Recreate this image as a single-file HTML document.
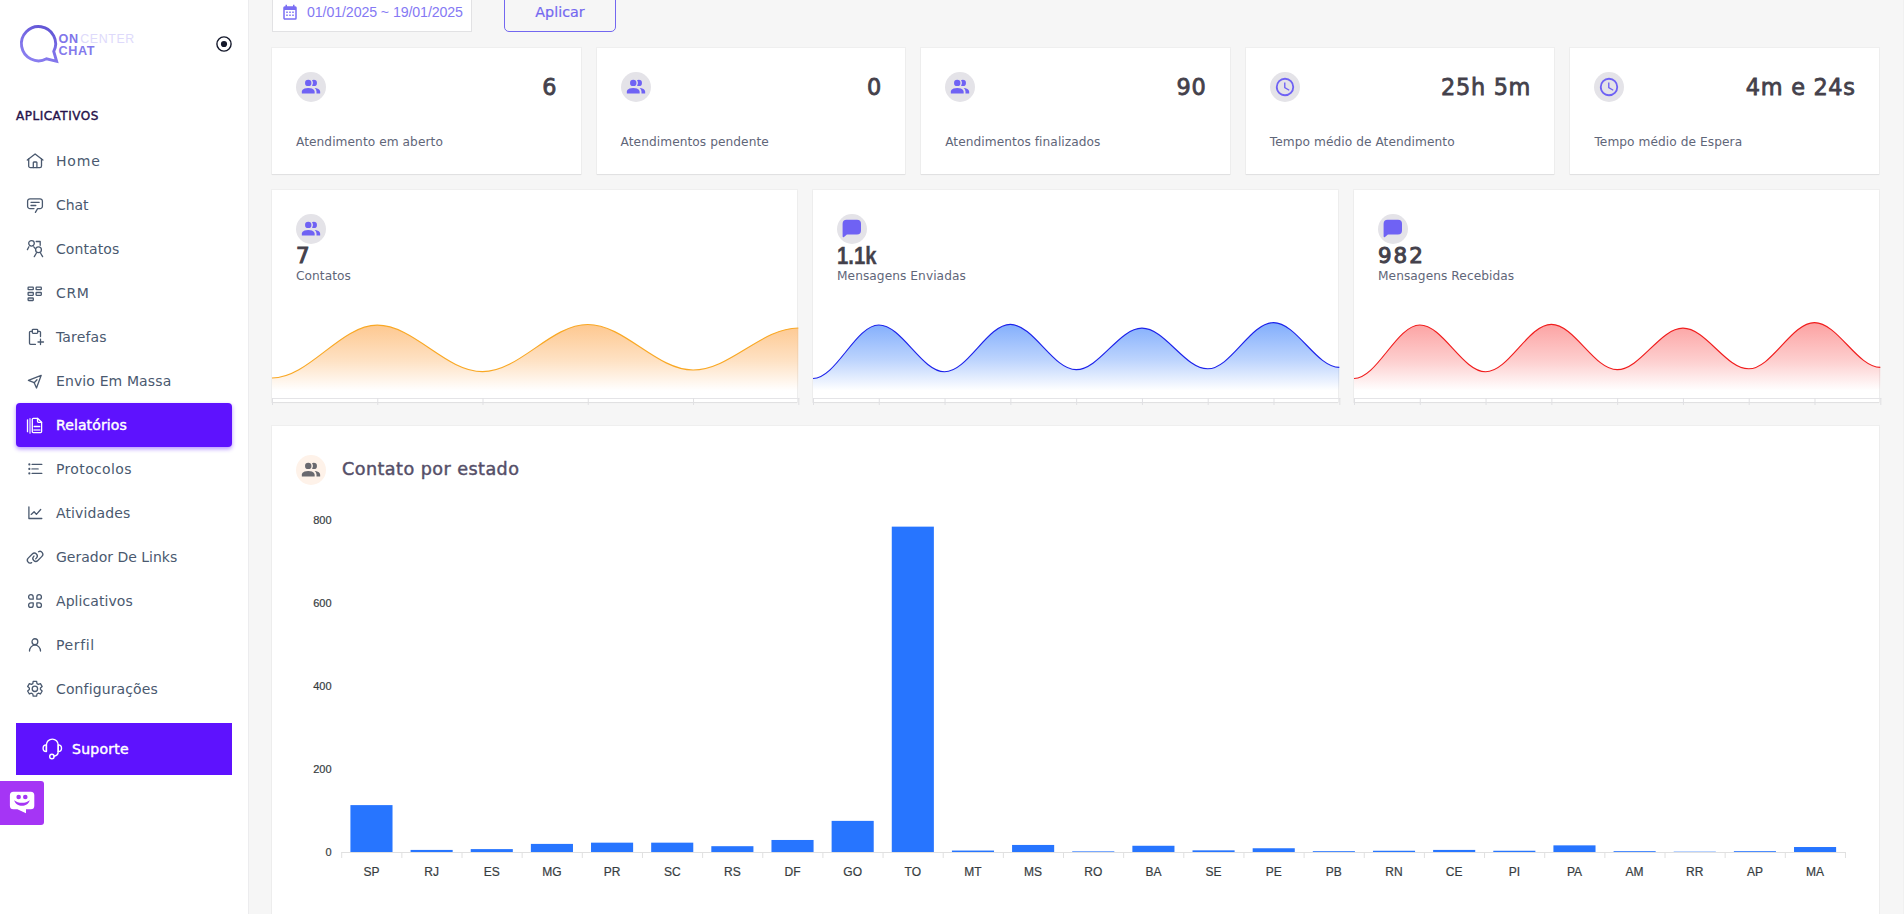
<!DOCTYPE html>
<html lang="pt-BR"><head><meta charset="utf-8"><title>OnCenter Chat - Relatórios</title>
<style>

*{box-sizing:border-box;margin:0;padding:0}
html,body{width:1904px;height:914px;overflow:hidden;background:#f6f6f6;font-family:"DejaVu Sans","Liberation Sans",sans-serif;}
.abs{position:absolute}
#side{position:absolute;left:0;top:0;width:248px;height:914px;background:#fff;box-shadow:1px 0 0 #ececee}
.nav{position:absolute;left:16px;width:216px;height:44px;color:#4a596f;font-size:14px;}
.nav svg{position:absolute;left:9px;top:12px}
.nav span{position:absolute;left:40px;top:0;line-height:44px;white-space:nowrap}
.nav.act{background:#5e12fe;color:#fff;border-radius:4px;box-shadow:0 2px 4px rgba(94,18,254,.46)}
.nav.act span{-webkit-text-stroke:.45px #fff}
.card{position:absolute;background:#fff;border-radius:0;box-shadow:0 1px 1px rgba(20,20,40,.06),0 0 0 1px rgba(20,20,40,.03)}
.av{position:absolute;width:30px;height:30px;border-radius:50%;background:#e4e3e8}
.val{position:absolute;color:#44414b;font-size:22.400px;line-height:30px;white-space:nowrap;letter-spacing:.7px;-webkit-text-stroke:.8px #44414b}
.lbl{position:absolute;color:#5f6679;font-size:12.200px;line-height:16px;white-space:nowrap;letter-spacing:.06px}
.t{position:absolute;white-space:nowrap}

</style></head><body>
<aside id="side">
<svg class="abs" style="left:14px;top:18px" width="60" height="52" viewBox="14 18 60 52">
<defs><linearGradient id="lg" gradientUnits="userSpaceOnUse" x1="50" y1="26" x2="34" y2="62"><stop offset="0" stop-color="#5d51d2"/><stop offset=".5" stop-color="#7a6de6"/><stop offset="1" stop-color="#8b7ff0"/></linearGradient></defs>
<path d="M53.74 51.46A17.1 17.1 0 1 0 46.53 58.80L56.6 61.3Z" fill="none" stroke="url(#lg)" stroke-width="2.900" stroke-linejoin="miter" stroke-miterlimit="10"/>
</svg>
<div class="t" style="left:58.500px;top:32.200px;font-size:12.600px;line-height:14px;font-weight:700;color:#8075ea;font-family:'Liberation Sans',sans-serif;letter-spacing:.75px">ON</div>
<div class="t" style="left:80.300px;top:32.200px;font-size:12.400px;line-height:14px;color:#dedafb;font-family:'Liberation Sans',sans-serif;letter-spacing:.6px">CENTER</div>
<div class="t" style="left:58.500px;top:43.900px;font-size:12.600px;line-height:14px;font-weight:700;color:#8479ec;font-family:'Liberation Sans',sans-serif;letter-spacing:.65px">CHAT</div>
<svg class="abs" style="left:214px;top:33.700px" width="20" height="20" viewBox="0 0 20 20"><circle cx="10" cy="10" r="7.100" fill="none" stroke="#14182b" stroke-width="1.400"/><circle cx="10" cy="10" r="3.100" fill="#14182b"/></svg>
<div class="t" style="left:16px;top:107.800px;font-size:12px;line-height:16px;color:#26124a;letter-spacing:.5px;-webkit-text-stroke:.4px #26124a">APLICATIVOS</div>
<a class="nav" style="top:139px"><svg width="20" height="20" viewBox="0 0 20 20"><g fill="none" stroke="currentColor" stroke-width="1.3" stroke-linecap="round" stroke-linejoin="round"><path d="M2.300 9 10.100 2.900 17.900 9"/><path d="M3.700 8v6.900a1.700 1.700 0 0 0 1.700 1.700h9.400a1.700 1.700 0 0 0 1.700-1.700V8"/><path d="M8.300 16.600v-5a.6.6 0 0 1 .6-.6h2.400a.6.6 0 0 1 .6.6v5"/></g></svg><span style="letter-spacing:0.83px">Home</span></a>
<a class="nav" style="top:183px"><svg width="20" height="20" viewBox="0 0 20 20"><g fill="none" stroke="currentColor" stroke-width="1.3" stroke-linecap="round" stroke-linejoin="round"><path d="M9 13.6H5a2.4 2.4 0 0 1-2.4-2.4V6.2A2.4 2.4 0 0 1 5 3.8h10a2.400 2.400 0 0 1 2.400 2.400v5A2.400 2.400 0 0 1 15 13.600h-2.400L10.400 17.400"/><path d="M6 7.300h8.200M6 10.500h4.800"/></g></svg><span style="letter-spacing:-0.05px">Chat</span></a>
<a class="nav" style="top:227px"><svg width="20" height="20" viewBox="0 0 20 20"><g fill="none" stroke="currentColor" stroke-width="1.3" stroke-linecap="round" stroke-linejoin="round"><circle cx="6.5" cy="4.350" r="2.800"/><path d="M3.900 7.800 2.400 10.600M8.800 7.800l1.300 1.600"/><path d="M11.200 2.500h4v3.800"/><circle cx="13.500" cy="10.750" r="2.900"/><path d="M11.400 14 9.300 17.600M15.500 14l2.100 3.600"/></g></svg><span style="letter-spacing:0.09px">Contatos</span></a>
<a class="nav" style="top:271px"><svg width="20" height="20" viewBox="0 0 20 20"><g fill="none" stroke="currentColor" stroke-width="1.3" stroke-linecap="round" stroke-linejoin="round"><rect x="3.100" y="4.200" width="5.200" height="2.500" rx=".5"/><rect x="11.100" y="4.200" width="5.200" height="2.500" rx=".5"/><rect x="3.100" y="9.500" width="5.200" height="2.800" rx=".5"/><rect x="11.100" y="9.500" width="5.200" height="2.800" rx=".5"/><rect x="3.100" y="15" width="5.200" height="2.500" rx=".5"/></g></svg><span style="letter-spacing:0.65px">CRM</span></a>
<a class="nav" style="top:315px"><svg width="20" height="20" viewBox="0 0 20 20"><g fill="none" stroke="currentColor" stroke-width="1.3" stroke-linecap="round" stroke-linejoin="round"><rect x="7.300" y="2.300" width="5.400" height="4" rx=".8"/><path d="M7.300 4.350H5.500a1 1 0 0 0-1 1v11a1.100 1.100 0 0 0 1.100 1.100h4.800M12.700 4.350h1.800a1 1 0 0 1 1 1V9.600"/><path d="M15.500 12.200v5.400M13 15h5.500"/></g></svg><span style="letter-spacing:0.13px">Tarefas</span></a>
<a class="nav" style="top:359px"><svg width="20" height="20" viewBox="0 0 20 20"><g fill="none" stroke="currentColor" stroke-width="1.3" stroke-linecap="round" stroke-linejoin="round"><path d="M3.400 9.400 16.200 4.300 11.500 17 9.200 11.700Z"/><path d="M9.200 11.700 12 8.700"/></g></svg><span style="letter-spacing:0.12px">Envio Em Massa</span></a>
<a class="nav act" style="top:403px"><svg width="20" height="20" viewBox="0 0 20 20"><g fill="none" stroke="currentColor" stroke-width="1.3" stroke-linecap="round" stroke-linejoin="round"><path d="M8.300 3.300h4.200l4.100 4v9.300a1 1 0 0 1-1 1H8.300a1 1 0 0 1-1-1V4.300a1 1 0 0 1 1-1Z"/><path d="M12.500 3.300v3a1 1 0 0 0 1 1h3.100"/><path d="M9.100 11.500h5.600"/><path d="M9.100 14.900h5.600" stroke-width="2" opacity=".6"/><path d="M2.500 5v11.700"/><path d="M5 4.200v13.600" stroke-width="2.200" opacity=".55"/></g></svg><span style="letter-spacing:0.11px">Relatórios</span></a>
<a class="nav" style="top:447px"><svg width="20" height="20" viewBox="0 0 20 20"><g fill="none" stroke="currentColor" stroke-width="1.3" stroke-linecap="round" stroke-linejoin="round"><path d="M7.100 5.400h9.700M7.100 14.400h9.700"/><path d="M7.100 9.900H13" stroke-width="1.700" opacity=".65"/><g fill="currentColor" stroke="none"><circle cx="4.350" cy="5.400" r="1.100"/><circle cx="4.350" cy="9.900" r="1.100"/><circle cx="4.350" cy="14.400" r="1.100"/></g></g></svg><span style="letter-spacing:0.36px">Protocolos</span></a>
<a class="nav" style="top:491px"><svg width="20" height="20" viewBox="0 0 20 20"><g fill="none" stroke="currentColor" stroke-width="1.3" stroke-linecap="round" stroke-linejoin="round" stroke-width="1.500"><path d="M3.900 4v11.500h12.900"/><path d="M6.200 11.400 9.100 8.800 11.400 11.400 15.700 6.500" stroke-width="1.300"/></g></svg><span style="letter-spacing:0.12px">Atividades</span></a>
<a class="nav" style="top:535px"><svg width="20" height="20" viewBox="0 0 20 20"><g fill="none" stroke="currentColor" stroke-width="1.3" stroke-linecap="round" stroke-linejoin="round"><path transform="translate(7.3 11.100) rotate(-45)" d="M-3.700 2.790A2.900 2.900 0 0 1-2.900-2.900H2.900A2.900 2.900 0 0 1 2.900 2.900H1.800"/><path transform="translate(12.850 9.350) rotate(-45)" d="M3.700-2.790A2.900 2.900 0 0 1 2.900 2.900H-2.900A2.900 2.900 0 0 1-2.900-2.900h.4"/></g></svg><span style="letter-spacing:0px">Gerador De Links</span></a>
<a class="nav" style="top:579px"><svg width="20" height="20" viewBox="0 0 20 20"><g fill="none" stroke="currentColor" stroke-width="1.3" stroke-linecap="round" stroke-linejoin="round" stroke-width="1.400"><path d="M8.20 8.20H5.90A2.3 2.3 0 1 1 8.20 5.90Z"/><path d="M11.85 8.20H14.15A2.3 2.3 0 1 0 11.85 5.90Z"/><path d="M8.20 11.85H5.90A2.3 2.3 0 1 0 8.20 14.15Z"/><path d="M11.85 11.85H14.15A2.3 2.3 0 1 1 11.85 14.15Z"/></g></svg><span style="letter-spacing:0.07px">Aplicativos</span></a>
<a class="nav" style="top:623px"><svg width="20" height="20" viewBox="0 0 20 20"><g fill="none" stroke="currentColor" stroke-width="1.3" stroke-linecap="round" stroke-linejoin="round"><circle cx="9.900" cy="6.650" r="2.900"/><path d="M4.500 16a5.500 5.800 0 0 1 11 0"/></g></svg><span style="letter-spacing:0.64px">Perfil</span></a>
<a class="nav" style="top:667px"><svg width="20" height="20" viewBox="0 0 20 20"><g fill="none" stroke="currentColor" stroke-width="1.3" stroke-linecap="round" stroke-linejoin="round"><path d="M8.19 2.39L11.61 2.39L12.00 4.61L13.35 5.39L15.46 4.62L17.17 7.58L15.45 9.02L15.45 10.58L17.17 12.02L15.46 14.98L13.35 14.21L12.00 14.99L11.61 17.21L8.19 17.21L7.80 14.99L6.45 14.21L4.34 14.98L2.63 12.02L4.35 10.58L4.35 9.02L2.63 7.58L4.34 4.62L6.45 5.39L7.80 4.61Z"/><circle cx="9.900" cy="9.800" r="2.700"/></g></svg><span style="letter-spacing:0.13px">Configurações</span></a>
<div class="abs" style="left:16px;top:723px;width:216px;height:52px;background:#5e12fe;color:#fff">
<svg class="abs" style="left:24px;top:14px" width="24" height="24" viewBox="40 737 24 24" fill="none" stroke="#fff" stroke-width="1.400" stroke-linecap="round" stroke-linejoin="round"><path d="M46.400 751.400V745a5.900 5.900 0 0 1 11.800 0v6.400"/><path d="M46.400 744.900a3.300 3.300 0 0 0 0 6.600Z"/><path d="M58.200 744.900a3.300 3.300 0 0 1 0 6.600Z"/><path d="M58.200 751.500c0 3-1.500 4.300-4.200 4.800"/><circle cx="51.900" cy="756.500" r="2.200"/></svg>
<div class="t" style="left:56px;top:.300px;line-height:52px;font-size:14px;letter-spacing:.25px;-webkit-text-stroke:.45px #fff">Suporte</div>
</div>
</aside>
<div class="abs" style="left:0;top:781px;width:44px;height:44px;background:#a535f5;border-radius:0 3px 3px 0">
<svg class="abs" style="left:0;top:0" width="44" height="44" viewBox="0 781 44 44"><path fill="#fff" d="M13.400 791.800h17.400a3.500 3.500 0 0 1 3.500 3.500v10.400a3.500 3.500 0 0 1-3.500 3.500H26v4L17.400 809.200h-4a3.500 3.500 0 0 1-3.500-3.500v-10.400a3.500 3.500 0 0 1 3.500-3.500Z"/><circle cx="18.650" cy="797" r="2.300" fill="#a535f5"/><circle cx="25.300" cy="797" r="2.300" fill="#a535f5"/><path fill="#a535f5" d="M14.100 800.200c4 3.400 11.600 3.400 15.700 0-2.300 7.400-13.300 7.400-15.700 0Z"/></svg>
</div>
<div class="abs" style="left:272px;top:-8px;width:200px;height:40px;background:#fff;border:1px solid #e2e2e4"></div>
<svg class="abs" style="left:281px;top:3.6px" width="18" height="18" viewBox="0 0 24 24"><path fill="#7a6ef3" d="M9,10V12H7V10H9M13,10V12H11V10H13M17,10V12H15V10H17M19,3A2,2 0 0,1 21,5V19A2,2 0 0,1 19,21H5C3.890,21 3,20.100 3,19V5A2,2 0 0,1 5,3H6V1H8V3H16V1H18V3H19M19,19V8H5V19H19M9,14V16H7V14H9M13,14V16H11V14H13M17,14V16H15V14H17Z"/></svg>
<div class="t" style="left:307px;top:1.800px;font-size:14.200px;line-height:20px;color:#8579f4;font-family:'Liberation Sans',sans-serif;letter-spacing:-.1px">01/01/2025 ~ 19/01/2025</div>
<div class="abs" style="left:504px;top:-8px;width:112px;height:40px;border:1px solid #7367f0;border-radius:5px"></div>
<div class="t" style="left:504px;width:112px;text-align:center;top:2px;font-size:14.300px;line-height:20px;color:#7468f0;-webkit-text-stroke:.2px #7468f0">Aplicar</div>
<div class="card" style="left:272.00px;top:48px;width:308.60px;height:126px">
<div class="av" style="left:24px;top:24px"></div>
<svg class="abs" style="left:28px;top:28px" width="22" height="22" viewBox="0 0 24 24"><path fill="#6f62f4" d="M16 17V19H2V17S2 13 9 13 16 17 16 17M12.5 7.5A3.5 3.5 0 1 0 9 11A3.5 3.5 0 0 0 12.500 7.500M15.940 13A5.320 5.320 0 0 1 18 17V19H22V17S22 13.370 15.940 13M15 4A3.390 3.390 0 0 0 13.070 4.590A5 5 0 0 1 13.070 10.410A3.390 3.390 0 0 0 15 11A3.500 3.500 0 0 0 15 4Z"/></svg>
<div class="val" style="right:23.300px;top:23.500px">6</div>
<div class="lbl" style="left:24px;top:86.300px">Atendimento em aberto</div>
</div>
<div class="card" style="left:596.60px;top:48px;width:308.60px;height:126px">
<div class="av" style="left:24px;top:24px"></div>
<svg class="abs" style="left:28px;top:28px" width="22" height="22" viewBox="0 0 24 24"><path fill="#6f62f4" d="M16 17V19H2V17S2 13 9 13 16 17 16 17M12.5 7.5A3.5 3.5 0 1 0 9 11A3.5 3.5 0 0 0 12.500 7.500M15.940 13A5.320 5.320 0 0 1 18 17V19H22V17S22 13.370 15.940 13M15 4A3.390 3.390 0 0 0 13.070 4.590A5 5 0 0 1 13.070 10.410A3.390 3.390 0 0 0 15 11A3.500 3.500 0 0 0 15 4Z"/></svg>
<div class="val" style="right:23.300px;top:23.500px">0</div>
<div class="lbl" style="left:24px;top:86.300px">Atendimentos pendente</div>
</div>
<div class="card" style="left:921.20px;top:48px;width:308.60px;height:126px">
<div class="av" style="left:24px;top:24px"></div>
<svg class="abs" style="left:28px;top:28px" width="22" height="22" viewBox="0 0 24 24"><path fill="#6f62f4" d="M16 17V19H2V17S2 13 9 13 16 17 16 17M12.5 7.5A3.5 3.5 0 1 0 9 11A3.5 3.5 0 0 0 12.500 7.500M15.940 13A5.320 5.320 0 0 1 18 17V19H22V17S22 13.370 15.940 13M15 4A3.390 3.390 0 0 0 13.070 4.590A5 5 0 0 1 13.070 10.410A3.390 3.390 0 0 0 15 11A3.500 3.500 0 0 0 15 4Z"/></svg>
<div class="val" style="right:23.300px;top:23.500px">90</div>
<div class="lbl" style="left:24px;top:86.300px">Atendimentos finalizados</div>
</div>
<div class="card" style="left:1245.80px;top:48px;width:308.60px;height:126px">
<div class="av" style="left:24px;top:24px"></div>
<svg class="abs" style="left:28px;top:28px" width="22" height="22" viewBox="0 0 24 24"><path fill="#6f62f4" d="M12,20A8,8 0 0,0 20,12A8,8 0 0,0 12,4A8,8 0 0,0 4,12A8,8 0 0,0 12,20M12,2A10,10 0 0,1 22,12A10,10 0 0,1 12,22C6.47,22 2,17.5 2,12A10,10 0 0,1 12,2M12.5,7V12.250L17,14.920L16.250,16.150L11,13V7H12.500Z"/></svg>
<div class="val" style="right:23.300px;top:23.500px">25h 5m</div>
<div class="lbl" style="left:24px;top:86.300px">Tempo médio de Atendimento</div>
</div>
<div class="card" style="left:1570.40px;top:48px;width:308.60px;height:126px">
<div class="av" style="left:24px;top:24px"></div>
<svg class="abs" style="left:28px;top:28px" width="22" height="22" viewBox="0 0 24 24"><path fill="#6f62f4" d="M12,20A8,8 0 0,0 20,12A8,8 0 0,0 12,4A8,8 0 0,0 4,12A8,8 0 0,0 12,20M12,2A10,10 0 0,1 22,12A10,10 0 0,1 12,22C6.47,22 2,17.5 2,12A10,10 0 0,1 12,2M12.5,7V12.250L17,14.920L16.250,16.150L11,13V7H12.500Z"/></svg>
<div class="val" style="right:23.300px;top:23.500px">4m e 24s</div>
<div class="lbl" style="left:24px;top:86.300px">Tempo médio de Espera</div>
</div>
<div class="card" style="left:272.00px;top:190px;width:525.00px;height:212px">
<div class="av" style="left:24px;top:24px"></div>
<svg class="abs" style="left:28px;top:28px" width="22" height="22" viewBox="0 0 24 24"><path fill="#6f62f4" d="M16 17V19H2V17S2 13 9 13 16 17 16 17M12.5 7.5A3.5 3.5 0 1 0 9 11A3.5 3.5 0 0 0 12.500 7.500M15.940 13A5.320 5.320 0 0 1 18 17V19H22V17S22 13.370 15.940 13M15 4A3.390 3.390 0 0 0 13.070 4.590A5 5 0 0 1 13.070 10.410A3.390 3.390 0 0 0 15 11A3.500 3.500 0 0 0 15 4Z"/></svg>
<div class="val" style="left:24px;top:51.100px;font-size:21.400px;letter-spacing:2px;-webkit-text-stroke:1px #44414b">7</div>
<div class="lbl" style="left:24px;top:78.300px">Contatos</div>
<svg class="abs" style="left:0;top:0;overflow:visible" width="528.3" height="216" viewBox="0 0 528.3 216">
<defs><linearGradient id="g0" x1="0" y1="0" x2="0" y2="1"><stop offset="0" stop-color="#fdba74" stop-opacity=".8"/><stop offset=".5" stop-color="#fdba74" stop-opacity=".42"/><stop offset=".9" stop-color="#fdba74" stop-opacity="0"/></linearGradient></defs>
<path d="M0.00 188.00C36.84 188.00 68.42 135.20 105.26 135.20C142.10 135.20 173.68 181.70 210.52 181.70C247.36 181.70 278.94 134.50 315.78 134.50C352.62 134.50 384.20 180.00 421.04 180.00C457.88 180.00 489.46 138.00 526.30 138.00L526.30 208L0 208Z" fill="url(#g0)" />
<path d="M0.00 188.00C36.84 188.00 68.42 135.20 105.26 135.20C142.10 135.20 173.68 181.70 210.52 181.70C247.36 181.70 278.94 134.50 315.78 134.50C352.62 134.50 384.20 180.00 421.04 180.00C457.88 180.00 489.46 138.00 526.30 138.00" fill="none" stroke="#f9a825" stroke-width="1.150"/>
<path d="M0 208.500H527.3" stroke="#e4e4e7" stroke-width="1"/>
<path d="M0.50 208V215M105.76 208V215M211.02 208V215M316.28 208V215M421.54 208V215M526.80 208V215" stroke="#e0e0e3" stroke-width="1"/>
</svg>
</div>
<div class="card" style="left:813.00px;top:190px;width:525.00px;height:212px">
<div class="av" style="left:24px;top:24px"></div>
<svg class="abs" style="left:24px;top:24px" width="30" height="30" viewBox="24 24 30 30"><path fill="#6f62f4" d="M33.600 29.700H44a4 4 0 0 1 4 4v6.700a4 4 0 0 1-4 4H33.900l-2.900 2.500c-.7.600-1.400.300-1.400-.600V33.700a4 4 0 0 1 4-4Z"/></svg>
<div class="val" style="left:23.600px;top:50.900px;font-family:'Liberation Sans',sans-serif;font-weight:700;font-size:24px;letter-spacing:0;transform:scaleX(.845);transform-origin:0 0;-webkit-text-stroke:.3px #44414b">1.1k</div>
<div class="lbl" style="left:24px;top:78.300px">Mensagens Enviadas</div>
<svg class="abs" style="left:0;top:0;overflow:visible" width="528.3" height="216" viewBox="0 0 528.3 216">
<defs><linearGradient id="g1" x1="0" y1="0" x2="0" y2="1"><stop offset="0" stop-color="#6299fb" stop-opacity=".8"/><stop offset=".5" stop-color="#6299fb" stop-opacity=".42"/><stop offset=".9" stop-color="#6299fb" stop-opacity="0"/></linearGradient></defs>
<path d="M0.00 188.50C23.03 188.50 42.76 135.00 65.79 135.00C88.81 135.00 108.55 181.80 131.57 181.80C154.60 181.80 174.34 134.40 197.36 134.40C220.39 134.40 240.12 179.70 263.15 179.70C286.18 179.70 305.91 138.20 328.94 138.20C351.96 138.20 371.70 178.80 394.72 178.80C417.75 178.80 437.49 132.60 460.51 132.60C483.54 132.60 503.27 177.40 526.30 177.40L526.30 208L0 208Z" fill="url(#g1)" />
<path d="M0.00 188.50C23.03 188.50 42.76 135.00 65.79 135.00C88.81 135.00 108.55 181.80 131.57 181.80C154.60 181.80 174.34 134.40 197.36 134.40C220.39 134.40 240.12 179.70 263.15 179.70C286.18 179.70 305.91 138.20 328.94 138.20C351.96 138.20 371.70 178.80 394.72 178.80C417.75 178.80 437.49 132.60 460.51 132.60C483.54 132.60 503.27 177.40 526.30 177.40" fill="none" stroke="#1c22ea" stroke-width="1.150"/>
<path d="M0 208.500H527.3" stroke="#e4e4e7" stroke-width="1"/>
<path d="M0.50 208V215M66.29 208V215M132.07 208V215M197.86 208V215M263.65 208V215M329.44 208V215M395.22 208V215M461.01 208V215M526.80 208V215" stroke="#e0e0e3" stroke-width="1"/>
</svg>
</div>
<div class="card" style="left:1354.00px;top:190px;width:525.00px;height:212px">
<div class="av" style="left:24px;top:24px"></div>
<svg class="abs" style="left:24px;top:24px" width="30" height="30" viewBox="24 24 30 30"><path fill="#6f62f4" d="M33.600 29.700H44a4 4 0 0 1 4 4v6.700a4 4 0 0 1-4 4H33.900l-2.900 2.500c-.7.600-1.400.300-1.400-.600V33.700a4 4 0 0 1 4-4Z"/></svg>
<div class="val" style="left:24px;top:51.100px;font-size:21.400px;letter-spacing:2px;-webkit-text-stroke:1px #44414b">982</div>
<div class="lbl" style="left:24px;top:78.300px">Mensagens Recebidas</div>
<svg class="abs" style="left:0;top:0;overflow:visible" width="528.3" height="216" viewBox="0 0 528.3 216">
<defs><linearGradient id="g2" x1="0" y1="0" x2="0" y2="1"><stop offset="0" stop-color="#fb8a8a" stop-opacity=".8"/><stop offset=".5" stop-color="#fb8a8a" stop-opacity=".42"/><stop offset=".9" stop-color="#fb8a8a" stop-opacity="0"/></linearGradient></defs>
<path d="M0.00 188.50C23.03 188.50 42.76 135.00 65.79 135.00C88.81 135.00 108.55 181.80 131.57 181.80C154.60 181.80 174.34 134.40 197.36 134.40C220.39 134.40 240.12 179.70 263.15 179.70C286.18 179.70 305.91 138.20 328.94 138.20C351.96 138.20 371.70 178.80 394.72 178.80C417.75 178.80 437.49 132.60 460.51 132.60C483.54 132.60 503.27 177.40 526.30 177.40L526.30 208L0 208Z" fill="url(#g2)" />
<path d="M0.00 188.50C23.03 188.50 42.76 135.00 65.79 135.00C88.81 135.00 108.55 181.80 131.57 181.80C154.60 181.80 174.34 134.40 197.36 134.40C220.39 134.40 240.12 179.70 263.15 179.70C286.18 179.70 305.91 138.20 328.94 138.20C351.96 138.20 371.70 178.80 394.72 178.80C417.75 178.80 437.49 132.60 460.51 132.60C483.54 132.60 503.27 177.40 526.30 177.40" fill="none" stroke="#f01d1d" stroke-width="1.150"/>
<path d="M0 208.500H527.3" stroke="#e4e4e7" stroke-width="1"/>
<path d="M0.50 208V215M66.29 208V215M132.07 208V215M197.86 208V215M263.65 208V215M329.44 208V215M395.22 208V215M461.01 208V215M526.80 208V215" stroke="#e0e0e3" stroke-width="1"/>
</svg>
</div>
<div class="card" style="left:272px;top:426px;width:1607px;height:520px">
<div class="av" style="left:24px;top:29px;background:#fef2e9"></div>
<svg class="abs" style="left:28px;top:33px" width="22" height="22" viewBox="0 0 24 24"><path fill="#69696f" d="M16 17V19H2V17S2 13 9 13 16 17 16 17M12.5 7.5A3.5 3.5 0 1 0 9 11A3.5 3.5 0 0 0 12.500 7.500M15.940 13A5.320 5.320 0 0 1 18 17V19H22V17S22 13.370 15.940 13M15 4A3.390 3.390 0 0 0 13.070 4.590A5 5 0 0 1 13.070 10.410A3.390 3.390 0 0 0 15 11A3.500 3.500 0 0 0 15 4Z"/></svg>
<div class="t" style="left:70px;top:29.400px;font-size:17.600px;line-height:28px;color:#554f68;letter-spacing:.44px;-webkit-text-stroke:.45px #554f68">Contato por estado</div>
<svg class="abs" style="left:0;top:0" width="1608" height="488" viewBox="272 426 1608 488" font-family="'Liberation Sans',sans-serif">
<text x="331.500" y="524" text-anchor="end" font-size="11" fill="#373d3f" stroke="#373d3f" stroke-width=".2">800</text>
<text x="331.500" y="607" text-anchor="end" font-size="11" fill="#373d3f" stroke="#373d3f" stroke-width=".2">600</text>
<text x="331.500" y="690" text-anchor="end" font-size="11" fill="#373d3f" stroke="#373d3f" stroke-width=".2">400</text>
<text x="331.500" y="773" text-anchor="end" font-size="11" fill="#373d3f" stroke="#373d3f" stroke-width=".2">200</text>
<text x="331.500" y="856" text-anchor="end" font-size="11" fill="#373d3f" stroke="#373d3f" stroke-width=".2">0</text>
<path d="M341.4 852.500H1845.7" stroke="#e0e0e0" stroke-width="1"/>
<path d="M341.70 852V858M401.85 852V858M462.00 852V858M522.15 852V858M582.30 852V858M642.45 852V858M702.60 852V858M762.75 852V858M822.90 852V858M883.05 852V858M943.20 852V858M1003.35 852V858M1063.50 852V858M1123.65 852V858M1183.80 852V858M1243.95 852V858M1304.10 852V858M1364.25 852V858M1424.40 852V858M1484.55 852V858M1544.70 852V858M1604.85 852V858M1665.00 852V858M1725.15 852V858M1785.30 852V858M1845.45 852V858" stroke="#e0e0e0" stroke-width="1"/>
<rect x="350.42" y="805.11" width="42.10" height="46.89" fill="#2775ff"/>
<text x="371.47" y="876" text-anchor="middle" font-size="12" fill="#373d3f" stroke="#373d3f" stroke-width=".2">SP</text>
<rect x="410.57" y="849.92" width="42.10" height="2.07" fill="#2775ff"/>
<text x="431.62" y="876" text-anchor="middle" font-size="12" fill="#373d3f" stroke="#373d3f" stroke-width=".2">RJ</text>
<rect x="470.72" y="849.10" width="42.10" height="2.90" fill="#2775ff"/>
<text x="491.77" y="876" text-anchor="middle" font-size="12" fill="#373d3f" stroke="#373d3f" stroke-width=".2">ES</text>
<rect x="530.87" y="843.91" width="42.10" height="8.09" fill="#2775ff"/>
<text x="551.92" y="876" text-anchor="middle" font-size="12" fill="#373d3f" stroke="#373d3f" stroke-width=".2">MG</text>
<rect x="591.02" y="842.66" width="42.10" height="9.34" fill="#2775ff"/>
<text x="612.08" y="876" text-anchor="middle" font-size="12" fill="#373d3f" stroke="#373d3f" stroke-width=".2">PR</text>
<rect x="651.17" y="842.66" width="42.10" height="9.34" fill="#2775ff"/>
<text x="672.23" y="876" text-anchor="middle" font-size="12" fill="#373d3f" stroke="#373d3f" stroke-width=".2">SC</text>
<rect x="711.32" y="846.19" width="42.10" height="5.81" fill="#2775ff"/>
<text x="732.38" y="876" text-anchor="middle" font-size="12" fill="#373d3f" stroke="#373d3f" stroke-width=".2">RS</text>
<rect x="771.47" y="839.97" width="42.10" height="12.04" fill="#2775ff"/>
<text x="792.53" y="876" text-anchor="middle" font-size="12" fill="#373d3f" stroke="#373d3f" stroke-width=".2">DF</text>
<rect x="831.62" y="820.88" width="42.10" height="31.12" fill="#2775ff"/>
<text x="852.67" y="876" text-anchor="middle" font-size="12" fill="#373d3f" stroke="#373d3f" stroke-width=".2">GO</text>
<rect x="891.77" y="526.64" width="42.10" height="325.36" fill="#2775ff"/>
<text x="912.83" y="876" text-anchor="middle" font-size="12" fill="#373d3f" stroke="#373d3f" stroke-width=".2">TO</text>
<rect x="951.92" y="850.55" width="42.10" height="1.45" fill="#2775ff"/>
<text x="972.98" y="876" text-anchor="middle" font-size="12" fill="#373d3f" stroke="#373d3f" stroke-width=".2">MT</text>
<rect x="1012.07" y="844.95" width="42.10" height="7.05" fill="#2775ff"/>
<text x="1033.12" y="876" text-anchor="middle" font-size="12" fill="#373d3f" stroke="#373d3f" stroke-width=".2">MS</text>
<rect x="1072.22" y="851.38" width="42.10" height="0.62" fill="#2775ff"/>
<text x="1093.27" y="876" text-anchor="middle" font-size="12" fill="#373d3f" stroke="#373d3f" stroke-width=".2">RO</text>
<rect x="1132.37" y="845.77" width="42.10" height="6.22" fill="#2775ff"/>
<text x="1153.42" y="876" text-anchor="middle" font-size="12" fill="#373d3f" stroke="#373d3f" stroke-width=".2">BA</text>
<rect x="1192.52" y="850.34" width="42.10" height="1.66" fill="#2775ff"/>
<text x="1213.58" y="876" text-anchor="middle" font-size="12" fill="#373d3f" stroke="#373d3f" stroke-width=".2">SE</text>
<rect x="1252.67" y="848.26" width="42.10" height="3.73" fill="#2775ff"/>
<text x="1273.73" y="876" text-anchor="middle" font-size="12" fill="#373d3f" stroke="#373d3f" stroke-width=".2">PE</text>
<rect x="1312.82" y="851.17" width="42.10" height="0.83" fill="#2775ff"/>
<text x="1333.88" y="876" text-anchor="middle" font-size="12" fill="#373d3f" stroke="#373d3f" stroke-width=".2">PB</text>
<rect x="1372.97" y="850.75" width="42.10" height="1.24" fill="#2775ff"/>
<text x="1394.02" y="876" text-anchor="middle" font-size="12" fill="#373d3f" stroke="#373d3f" stroke-width=".2">RN</text>
<rect x="1433.12" y="849.92" width="42.10" height="2.07" fill="#2775ff"/>
<text x="1454.17" y="876" text-anchor="middle" font-size="12" fill="#373d3f" stroke="#373d3f" stroke-width=".2">CE</text>
<rect x="1493.27" y="850.75" width="42.10" height="1.24" fill="#2775ff"/>
<text x="1514.33" y="876" text-anchor="middle" font-size="12" fill="#373d3f" stroke="#373d3f" stroke-width=".2">PI</text>
<rect x="1553.42" y="845.36" width="42.10" height="6.64" fill="#2775ff"/>
<text x="1574.48" y="876" text-anchor="middle" font-size="12" fill="#373d3f" stroke="#373d3f" stroke-width=".2">PA</text>
<rect x="1613.57" y="851.17" width="42.10" height="0.83" fill="#2775ff"/>
<text x="1634.62" y="876" text-anchor="middle" font-size="12" fill="#373d3f" stroke="#373d3f" stroke-width=".2">AM</text>
<rect x="1673.72" y="851.67" width="42.10" height="0.33" fill="#2775ff"/>
<text x="1694.77" y="876" text-anchor="middle" font-size="12" fill="#373d3f" stroke="#373d3f" stroke-width=".2">RR</text>
<rect x="1733.87" y="851.17" width="42.10" height="0.83" fill="#2775ff"/>
<text x="1754.92" y="876" text-anchor="middle" font-size="12" fill="#373d3f" stroke="#373d3f" stroke-width=".2">AP</text>
<rect x="1794.02" y="847.02" width="42.10" height="4.98" fill="#2775ff"/>
<text x="1815.08" y="876" text-anchor="middle" font-size="12" fill="#373d3f" stroke="#373d3f" stroke-width=".2">MA</text>
</svg>
</div>
<div class="abs" style="left:1903px;top:0;width:1px;height:914px;background:#f1f1f1"></div>
</body></html>
